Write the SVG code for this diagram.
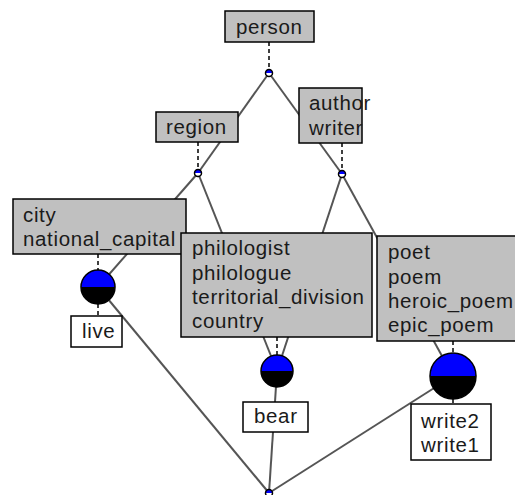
<svg xmlns="http://www.w3.org/2000/svg" width="515" height="495" viewBox="0 0 515 495">
  <defs>
    <style>
      .edge { stroke: #555555; stroke-width: 2; fill: none; }
      .tie { stroke: #000000; stroke-width: 1.5; stroke-dasharray: 4 3; fill: none; }
      .concept { fill: #c0c0c0; stroke: #000000; stroke-width: 1.5; }
      .object { fill: #ffffff; stroke: #000000; stroke-width: 1.5; }
      .lbl { font-family: "Liberation Sans", Arial, sans-serif; font-size: 20.5px; letter-spacing: 0.65px; fill: #1a1a1a; }
      .rim { stroke: #000000; stroke-width: 1.5; fill: none; }
      .top { fill: #0000ff; }
      .bottom { fill: #000000; }
      .hollow { fill: #ffffff; }
    </style>
  </defs>

  <!-- lattice edges -->
  <g id="connectors">
    <line class="edge" x1="269" y1="73" x2="198" y2="173"/>
    <line class="edge" x1="269" y1="73" x2="342" y2="174"/>
    <line class="edge" x1="198" y1="173" x2="98" y2="287"/>
    <line class="edge" x1="198" y1="173" x2="277" y2="371"/>
    <line class="edge" x1="342" y1="174" x2="277" y2="371"/>
    <line class="edge" x1="342" y1="174" x2="453" y2="376"/>
    <line class="edge" x1="98" y1="287" x2="269" y2="493"/>
    <line class="edge" x1="277" y1="371" x2="269" y2="493"/>
    <line class="edge" x1="453" y1="376" x2="269" y2="493"/>
    <!-- label ties -->
    <line class="tie" x1="269" y1="42" x2="269" y2="70"/>
    <line class="tie" x1="198" y1="142" x2="198" y2="170"/>
    <line class="tie" x1="342" y1="143" x2="342" y2="171"/>
    <line class="tie" x1="98" y1="254" x2="98" y2="270"/>
    <line class="tie" x1="98" y1="304" x2="98" y2="316"/>
    <line class="tie" x1="277" y1="337" x2="277" y2="355"/>
    <line class="tie" x1="453" y1="341" x2="453" y2="353"/>
    <line class="tie" x1="453" y1="399" x2="453" y2="404"/>
  </g>

  <g id="n-person">
    <rect class="concept" x="225" y="11" width="89" height="31"/>
    <text class="lbl" x="236" y="34">person</text>
    <path class="top" d="M265.5 73 A3.5 3.5 0 0 1 272.5 73 Z"/>
    <path class="hollow" d="M265.5 73 A3.5 3.5 0 0 0 272.5 73 Z"/>
    <circle class="rim" cx="269" cy="73" r="3.5"/>
  </g>

  <g id="n-region">
    <rect class="concept" x="156" y="112" width="82" height="30"/>
    <text class="lbl" x="166" y="134">region</text>
    <path class="top" d="M194.5 173 A3.5 3.5 0 0 1 201.5 173 Z"/>
    <path class="hollow" d="M194.5 173 A3.5 3.5 0 0 0 201.5 173 Z"/>
    <circle class="rim" cx="198" cy="173" r="3.5"/>
  </g>

  <g id="n-author">
    <rect class="concept" x="299" y="88" width="63" height="55"/>
    <text class="lbl" x="309" y="110">author</text>
    <text class="lbl" x="309" y="135">writer</text>
    <path class="top" d="M338.5 174 A3.5 3.5 0 0 1 345.5 174 Z"/>
    <path class="hollow" d="M338.5 174 A3.5 3.5 0 0 0 345.5 174 Z"/>
    <circle class="rim" cx="342" cy="174" r="3.5"/>
  </g>

  <g id="n-city">
    <rect class="concept" x="13" y="199" width="173" height="55"/>
    <text class="lbl" x="23" y="222">city</text>
    <text class="lbl" x="23" y="246">national_capital</text>
  </g>

  <g id="n-live">
    <path class="top" d="M81 287 A17 17 0 0 1 115 287 Z"/>
    <path class="bottom" d="M81 287 A17 17 0 0 0 115 287 Z"/>
    <circle class="rim" cx="98" cy="287" r="17"/>
    <rect class="object" x="71" y="316" width="51" height="31"/>
    <text class="lbl" x="82" y="338">live</text>
  </g>

  <g id="n-philologist">
    <rect class="concept" x="181" y="233" width="191" height="104"/>
    <text class="lbl" x="192" y="255">philologist</text>
    <text class="lbl" x="192" y="280">philologue</text>
    <text class="lbl" x="192" y="304">territorial_division</text>
    <text class="lbl" x="192" y="328">country</text>
  </g>

  <g id="n-bear">
    <path class="top" d="M261 371 A16 16 0 0 1 293 371 Z"/>
    <path class="bottom" d="M261 371 A16 16 0 0 0 293 371 Z"/>
    <circle class="rim" cx="277" cy="371" r="16"/>
    <rect class="object" x="243" y="402" width="65" height="30"/>
    <text class="lbl" x="254" y="423">bear</text>
  </g>

  <g id="n-poet">
    <rect class="concept" x="377" y="236" width="145" height="105"/>
    <text class="lbl" x="388" y="259">poet</text>
    <text class="lbl" x="388" y="284">poem</text>
    <text class="lbl" x="388" y="308">heroic_poem</text>
    <text class="lbl" x="388" y="332">epic_poem</text>
  </g>

  <g id="n-write">
    <path class="top" d="M430 376 A23 23 0 0 1 476 376 Z"/>
    <path class="bottom" d="M430 376 A23 23 0 0 0 476 376 Z"/>
    <circle class="rim" cx="453" cy="376" r="23"/>
    <rect class="object" x="411" y="404" width="80" height="56"/>
    <text class="lbl" x="421" y="428">write2</text>
    <text class="lbl" x="421" y="452">write1</text>
  </g>

  <g id="n-bottom">
    <path class="top" d="M265.5 493 A3.5 3.5 0 0 1 272.5 493 Z"/>
    <path class="hollow" d="M265.5 493 A3.5 3.5 0 0 0 272.5 493 Z"/>
    <circle class="rim" cx="269" cy="493" r="3.5"/>
  </g>
</svg>
